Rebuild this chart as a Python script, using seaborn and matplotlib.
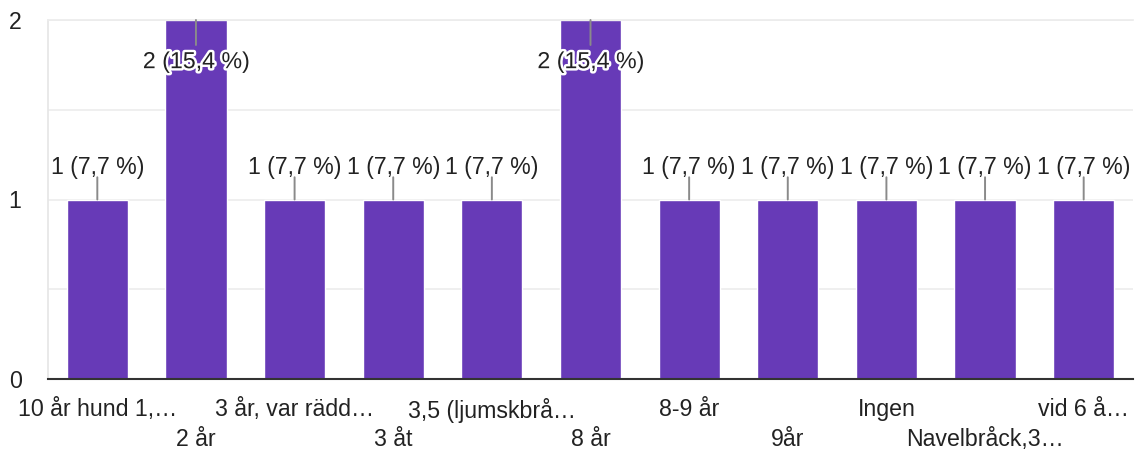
import matplotlib
matplotlib.use("Agg")
import matplotlib.pyplot as plt
import matplotlib.patheffects as pe
import seaborn as sns

categories = ["10 år hund 1,…", "2 år", "3 år, var rädd…", "3 åt", "3,5 (ljumskbrå…",
              "8 år", "8-9 år", "9år", "Ingen", "Navelbråck,3…", "vid 6 å…"]
counts = [1, 2, 1, 1, 1, 2, 1, 1, 1, 1, 1]
total = sum(counts)

sns.set_theme(style="white")
plt.rcParams['font.family'] = ['Liberation Sans', 'DejaVu Sans']

bar_color = "#673ab7"
text_color = "#222222"
fs = 16.7

fig = plt.figure(figsize=(11.37, 4.51), dpi=100)
ax = fig.add_axes([48 / 1137, 72 / 451, 1085 / 1137, 359 / 451])

sns.barplot(x=list(range(len(categories))), y=counts, color=bar_color,
            saturation=1, width=0.62, ax=ax)

ax.set_xlim(-0.5, len(categories) - 0.5)
ax.set_ylim(0, 2)
ax.set_yticks([0, 1, 2])
ax.set_yticks([0.5, 1.5], minor=True)
ax.set_yticklabels(["0", "1", "2"])
ax.set_axisbelow(True)
ax.yaxis.grid(True, which="both", color="#ececec", lw=1.2)

# alternate label rows: even on major ticks, odd on minor ticks
even = list(range(0, len(categories), 2))
odd = list(range(1, len(categories), 2))
ax.set_xticks(even, [categories[i] for i in even])
ax.set_xticks(odd, [categories[i] for i in odd], minor=True)
ax.tick_params(axis="x", which="major", length=0, pad=13.5, labelsize=fs, labelcolor=text_color)
ax.tick_params(axis="x", which="minor", length=0, pad=35, labelsize=fs, labelcolor=text_color)
ax.tick_params(axis="y", which="both", length=0, pad=19, labelsize=fs, labelcolor=text_color)
ax.set_xlabel("")
ax.set_ylabel("")

ax.spines["right"].set_visible(False)
ax.spines["left"].set_color("#e6e6e6")
ax.spines["top"].set_color("#ececec")
ax.spines["bottom"].set_color("#333333")
ax.spines["bottom"].set_linewidth(1.5)

for i, v in enumerate(counts):
    pct = f"{v} ({v / total * 100:.1f} %)".replace(".", ",")
    if v >= 2:
        ax.annotate("", xy=(i, v), xytext=(0, -18), textcoords="offset points",
                    arrowprops=dict(arrowstyle="-", color="#8a8a8a", lw=1.4,
                                    shrinkA=0, shrinkB=0), annotation_clip=False)
        ax.annotate(pct, xy=(i, v), xytext=(0, -30), textcoords="offset points",
                    ha="center", va="center", fontsize=fs, color=text_color,
                    path_effects=[pe.withStroke(linewidth=3.5, foreground="white")])
    else:
        ax.annotate("", xy=(i, v), xytext=(0, 16), textcoords="offset points",
                    arrowprops=dict(arrowstyle="-", color="#8a8a8a", lw=1.4,
                                    shrinkA=0, shrinkB=0))
        ax.annotate(pct, xy=(i, v), xytext=(0, 23), textcoords="offset points",
                    ha="center", va="center", fontsize=fs, color=text_color)

fig.savefig("out.png", dpi=100)
